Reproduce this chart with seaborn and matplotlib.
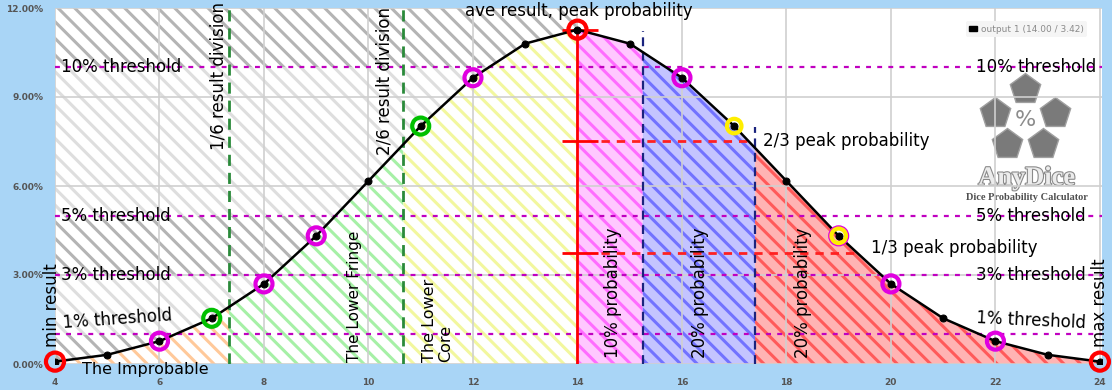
import numpy as np
import matplotlib
matplotlib.use("Agg")
import matplotlib.pyplot as plt
import matplotlib.patheffects as pe
from matplotlib.patches import Patch
import seaborn as sns

# ---------------- data ----------------
results = list(range(4, 25))
probs = [0.08, 0.31, 0.77, 1.54, 2.70, 4.32, 6.17, 8.02, 9.65, 10.80, 11.27,
         10.80, 9.65, 8.02, 6.17, 4.32, 2.70, 1.54, 0.77, 0.31, 0.08]
thresholds = [10, 5, 3, 1]
threshold_labels = ["10% threshold", "5% threshold", "3% threshold", "1% threshold"]
region_bounds = [4, 7.33, 10.67, 14, 15.25, 17.4, 24]
region_names = ["The Improbable", "The Lower Fringe", "The Lower\nCore",
                "10% probability", "20% probability", "20% probability"]
ring_red = [4, 14, 24]
ring_magenta = [6, 8, 9, 12, 16, 19, 20, 22]
ring_green = [7, 11]
ring_yellow = [17, 19]
xticks = list(range(4, 25, 2))
yticks = [0, 3, 6, 9, 12]
ytick_labels = ["0.00%", "3.00%", "6.00%", "9.00%", "12.00%"]
legend_label = "output 1 (14.00 / 3.42)"

# ---------------- style ----------------
sns.set_style("white")
plt.rcParams["font.family"] = ["DejaVu Sans"]
plt.rcParams["text.color"] = "black"
plt.rcParams["hatch.linewidth"] = 2.2

W, H = 1112, 390
fig = plt.figure(figsize=(W / 100, H / 100), dpi=100, facecolor="#a9d5f6")
ax = fig.add_axes([55 / W, (H - 364) / H, 1047 / W, 356 / H])
ax.set_facecolor("white")
ax.set_xlim(4, 24.04)
ax.set_ylim(0, 12)
for s in ax.spines.values():
    s.set_visible(False)

xs = np.linspace(4, 24, 4001)
ys = np.interp(xs, results, probs)
peak = max(probs)
peak_x = results[probs.index(peak)]

# grey banded hatch above curve (left half)
band_edges = [0, 1, 3, 5, 10, 12]
left = xs <= peak_x
for j in range(len(band_edges) - 1):
    lo, hi = band_edges[j], band_edges[j + 1]
    col = "#b4b4b4" if j % 2 == 0 else "#dedede"
    bottom = np.maximum(ys[left], lo)
    ax.fill_between(xs[left], bottom, hi, where=ys[left] < hi, interpolate=True,
                    facecolor="white", edgecolor=col, hatch="\\\\", linewidth=0, zorder=1)

# colored regions under the curve
region_face = ["#ffffff", "#ffffff", "#ffffff", "#ffc8ff", "#c4c4ff", "#ffb4b4"]
region_hatch = ["#ffc99a", "#a6f0a6", "#f2f79e", "#ff6cff", "#7272ff", "#ff5a5a"]
for i in range(len(region_bounds) - 1):
    lo, hi = region_bounds[i], region_bounds[i + 1]
    m = (xs >= lo) & (xs <= hi)
    ax.fill_between(xs[m], 0, ys[m], facecolor=region_face[i], edgecolor=region_hatch[i],
                    hatch="\\\\", linewidth=0, zorder=1.2)

# grid
ax.set_axisbelow(False)
ax.grid(True, color="#cfcfcf", lw=1.2, zorder=1.5)
for gl in ax.get_xgridlines() + ax.get_ygridlines():
    gl.set_zorder(1.5)

# threshold lines
for t in thresholds:
    ax.axhline(t, color="#c000c0", lw=1.6, ls=(0, (2.2, 2.8)), zorder=3)

# result divisions
for b in region_bounds[1:3]:
    ax.axvline(b, color="#2a8a3a", lw=2, ls=(0, (4, 2.5)), zorder=3)
for b in region_bounds[4:6]:
    ax.vlines(b, 0, np.interp(b, results, probs) + 0.7, color="#1a237e", lw=1.6,
              ls=(0, (4, 2.5)), zorder=3)

# peak markers
ax.vlines(peak_x, 0, peak, color="#ff0000", lw=2, zorder=4)
levels = [peak, peak * 2 / 3, peak / 3]
ax.hlines(levels, peak_x - 0.3, peak_x + 0.4, color="#ff0000", lw=2, zorder=4)
right = xs >= peak_x
for lv in levels[1:]:
    xc = np.interp(lv, ys[right][::-1], xs[right][::-1])
    ax.hlines(lv, peak_x + 0.45, xc, color="#ff2020", lw=2, ls=(0, (3, 2.5)), zorder=4)

# curve
sns.lineplot(x=results, y=probs, color="black", lw=1.8, marker="o", markersize=5,
             markeredgecolor="black", ax=ax, zorder=5, legend=False)

# rings
def rings(vals, color, s, lw=3):
    yy = [probs[results.index(v)] for v in vals]
    sns.scatterplot(x=vals, y=yy, color=color, facecolors="none", edgecolor=color,
                    s=s, linewidth=lw, ax=ax, zorder=6, legend=False, clip_on=False)

rings(ring_red, "#ff0000", 170)
rings(ring_magenta, "#e000e0", 150)
rings(ring_green, "#00c000", 150)
rings(ring_yellow, "#ffee00", 110)

# ---------------- texts ----------------
fs = 12
for t, lab in zip(thresholds[:3], threshold_labels[:3]):
    ax.text(4.12, t, lab, fontsize=fs, va="center", ha="left", zorder=7)
    ax.text(21.63, t, lab, fontsize=fs, va="center", ha="left", zorder=7)
ax.text(5.19, 1.52, threshold_labels[3], fontsize=fs, va="center", ha="center",
        rotation=4, rotation_mode="anchor", zorder=7)
ax.text(22.68, 1.48, threshold_labels[3], fontsize=fs, va="center", ha="center",
        rotation=-2.7, rotation_mode="anchor", zorder=7)

ax.text(7.12, 7.2, "1/6 result division", fontsize=fs, rotation=90, ha="center", va="bottom", zorder=7)
ax.text(10.3, 7.05, "2/6 result division", fontsize=fs, rotation=90, ha="center", va="bottom", zorder=7)
ax.text(14.02, 11.89, "ave result, peak probability", fontsize=fs, ha="center", va="center",
        zorder=7, clip_on=False)
ax.text(17.55, peak * 2 / 3, "2/3 peak probability", fontsize=fs, ha="left", va="center", zorder=7)
ax.text(19.62, 3.91, "1/3 peak probability", fontsize=fs, ha="left", va="center", zorder=7)
ax.text(3.94, 0.57, "min result", fontsize=fs, rotation=90, ha="center", va="bottom", zorder=7, clip_on=False)
ax.text(24.0, 0.57, "max result", fontsize=fs, rotation=90, ha="center", va="bottom", zorder=7, clip_on=False)

ax.text(4.52, -0.2, region_names[0], fontsize=11.5, ha="left", va="center", zorder=7, clip_on=False)
ax.text(9.74, 0.07, region_names[1], fontsize=11, rotation=90, ha="center", va="bottom", zorder=7)
ax.text(11.33, 0.07, region_names[2], fontsize=11.5, rotation=90, ha="center", va="bottom",
        multialignment="left", linespacing=1.1, zorder=7)
ax.text(14.68, 0.2, region_names[3], fontsize=fs, rotation=90, ha="center", va="bottom", zorder=7)
ax.text(16.34, 0.2, region_names[4], fontsize=fs, rotation=90, ha="center", va="bottom", zorder=7)
ax.text(18.32, 0.2, region_names[5], fontsize=fs, rotation=90, ha="center", va="bottom", zorder=7)

# legend
leg = ax.legend(handles=[Patch(facecolor="black", edgecolor="black")], labels=[legend_label],
                loc="upper right", bbox_to_anchor=(0.99, 0.975), fontsize=6.5,
                frameon=True, handlelength=0.9, handleheight=0.45, borderpad=0.35,
                handletextpad=0.4, framealpha=1)
leg.get_frame().set_facecolor("#f5f5f5")
leg.get_frame().set_edgecolor("none")
for t in leg.get_texts():
    t.set_color("#8a8a8a")

# AnyDice logo (decoration, axes-fraction coordinates)
pent = [(0.9265, 0.772, 0), (0.898, 0.705, 72), (0.909, 0.618, 144),
        (0.944, 0.618, 216), (0.955, 0.705, 288)]
for px, py, ang in pent:
    ax.plot([px], [py], marker=(5, 0, ang), markersize=23, color="#7a7a7a",
            markeredgecolor="#a0a0a0", markeredgewidth=1, ls="none",
            transform=ax.transAxes, zorder=2)
ax.text(0.9265, 0.685, "%", transform=ax.transAxes, fontsize=16, color="#8c8c8c",
        ha="center", va="center", zorder=2)
ax.text(0.928, 0.522, "AnyDice", transform=ax.transAxes, fontsize=19, color="#ececec",
        ha="center", va="center", family="Liberation Serif", fontweight="bold", zorder=2,
        path_effects=[pe.withStroke(linewidth=1.6, foreground="#8a8a8a")])
ax.text(0.928, 0.469, "Dice Probability Calculator", transform=ax.transAxes, fontsize=7.5,
        color="#505050", ha="center", va="center", family="Liberation Serif",
        fontweight="bold", zorder=2)

# ticks
ax.set_xticks(xticks)
ax.set_xticklabels([str(v) for v in xticks])
ax.set_yticks(yticks)
ax.set_yticklabels(ytick_labels)
ax.tick_params(length=0, labelsize=6.5, labelcolor="#555555")
ax.tick_params(axis="y", pad=8.5)
ax.tick_params(axis="x", pad=10)
for lbl in ax.get_xticklabels() + ax.get_yticklabels():
    lbl.set_fontweight("bold")
ax.set_xlabel("")
ax.set_ylabel("")

fig.savefig("out.png", dpi=100, facecolor=fig.get_facecolor())
